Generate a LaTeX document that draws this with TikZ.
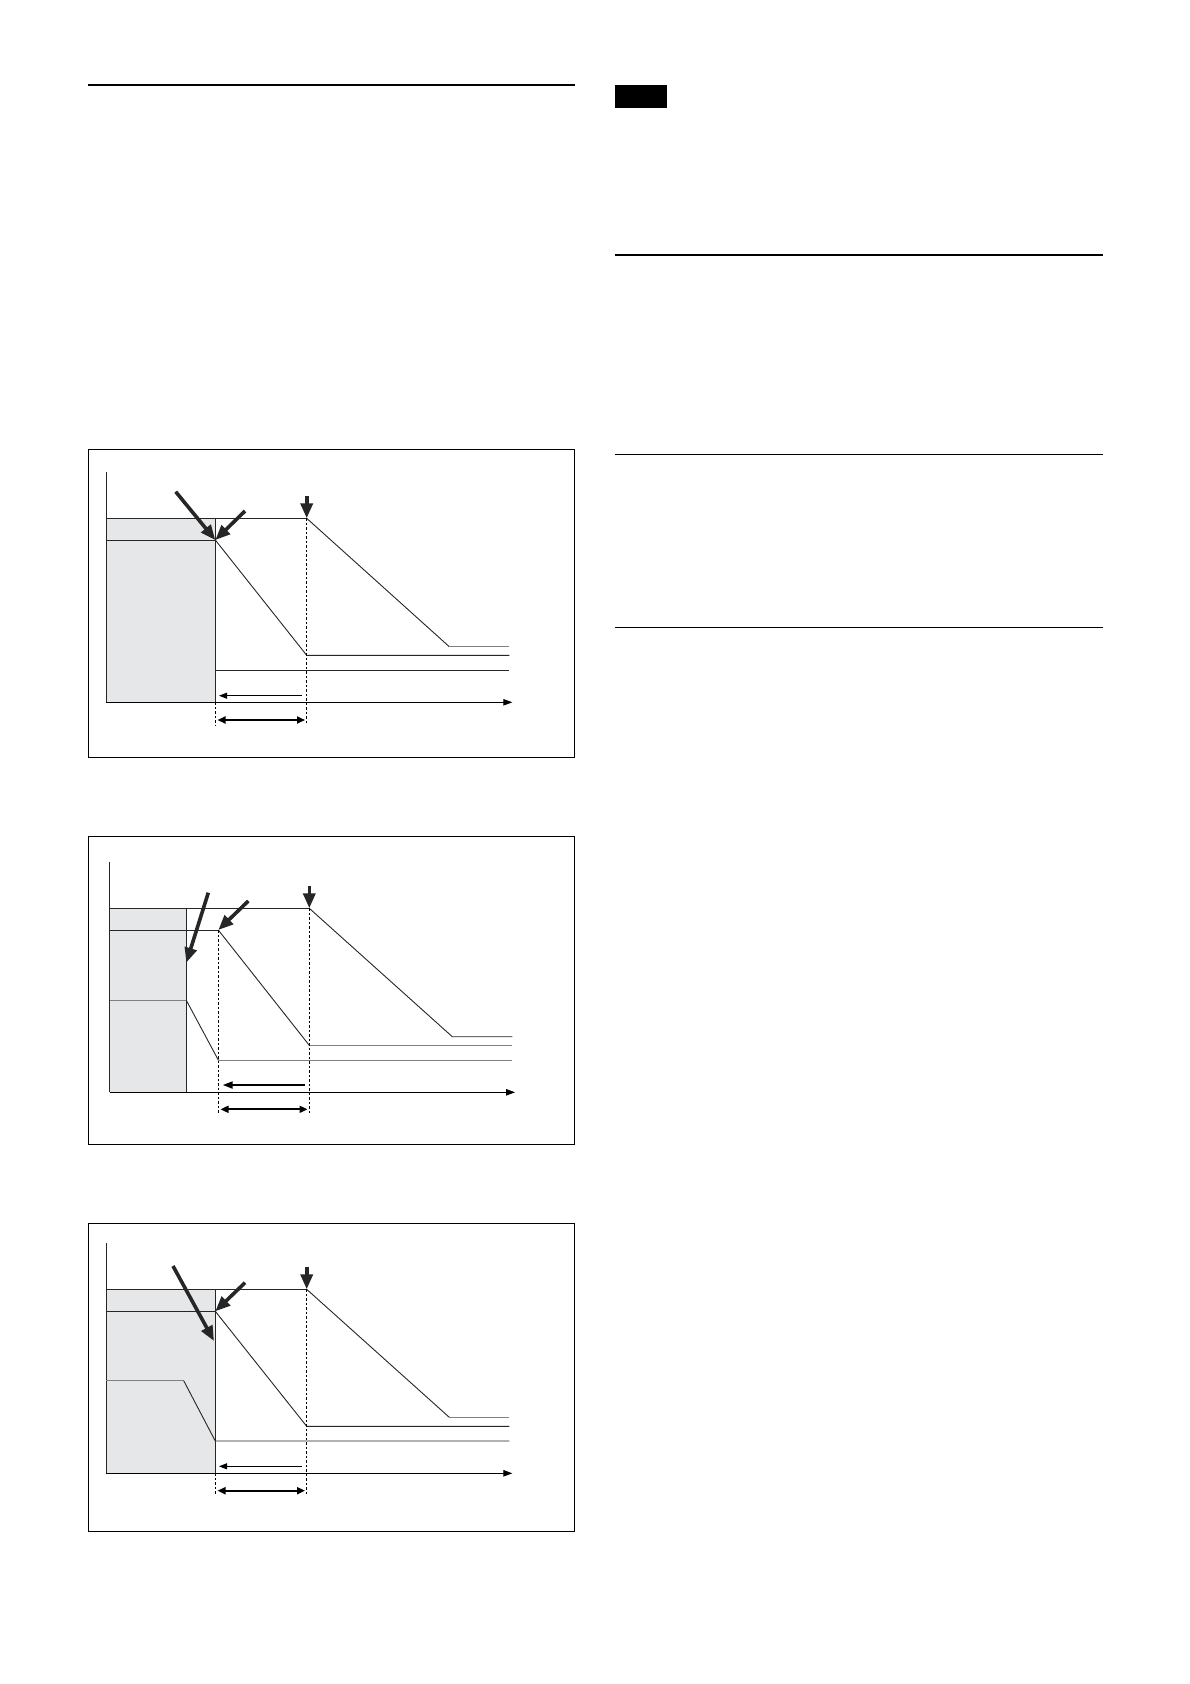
\documentclass[tikz,border=0pt]{standalone}
\usetikzlibrary{arrows.meta}
\definecolor{panelgray}{HTML}{E6E7E8}
\definecolor{greyline}{HTML}{808080}
\begin{document}
\begin{tikzpicture}[x=1pt,y=-1pt,
  thinln/.style={line width=0.9pt,black!85},
  greyln/.style={line width=1pt,greyline},
  frame/.style={line width=0.9pt,black},
  rulel/.style={line width=1.4pt,black},
  dashv/.style={line width=0.8pt,black,dash pattern=on 2.5pt off 2pt},
  axisarrow/.style={line width=0.9pt,-{Triangle[length=9pt,width=6.5pt]}},
  thickarrow/.style={line width=3.6pt,black!85,-{Triangle[length=15pt,width=12pt]}},
  smallarrow/.style={line width=0.9pt,{Triangle[length=8pt,width=6pt]}-},
  midarrow/.style={line width=2pt,{Triangle[length=10pt,width=7pt]}-},
  dblarrow/.style={line width=1.8pt,{Triangle[length=8pt,width=7pt]}-{Triangle[length=8pt,width=7pt]}}]
\useasboundingbox (0,0) rectangle (1190,1684);
\fill[white] (0,0) rectangle (1190,1684);
% page rules
\draw[rulel] (88,85) -- (575,85);
\fill[black] (615,85) rectangle (667,107.7);
\draw[rulel] (615,255) -- (1103,255);
\draw[rulel] (615,454.3) -- (1103,454.3);
\draw[rulel] (615,627.3) -- (1103,627.3);

% ---------- Diagram 1 ----------
\draw[frame] (88.3,449.3) rectangle (574.3,757);
\fill[panelgray] (106.3,518.3) rectangle (215.3,702.3);
\coordinate (a1o) at (106.3,702.3);
\draw[thinln] (106.3,472.3) -- (a1o);
\draw[axisarrow] (a1o) -- (512.3,702.3);
\draw[thinln] (106.3,518.3) -- (306.7,518.3);
\draw[thinln] (106.3,540) -- (215.3,540);
\draw[thinln] (215.3,518.3) -- (215.3,702.3);
\coordinate (k1) at (215.3,540);
\coordinate (m1) at (306.7,518.3);
\draw[thinln] (k1) -- (306.7,655.3) -- (509.3,655.3);
\draw[thinln] (m1) -- (449.3,646.7);
\draw[greyln] (449.3,646.7) -- (509.3,646.7);
\draw[thinln] (215.3,670) -- (509.3,670);
\draw[dashv] (215.3,702.3) -- (215.3,725);
\draw[dashv] (306.7,518.3) -- (306.7,725);
\draw[smallarrow] (219,695.7) -- (301.7,695.7);
\draw[dblarrow] (217.5,720) -- (305,720);
\draw[thickarrow] (175.7,491.7) -- (k1);
\draw[thickarrow] (245,511) -- (k1);
\draw[thickarrow] (306.7,496) -- (m1);

% ---------- Diagram 2 ----------
\draw[frame] (88.3,836.7) rectangle (574.3,1144);
\fill[panelgray] (109.7,908.3) rectangle (186.3,1092.3);
\coordinate (a2o) at (109.7,1092.3);
\draw[thinln] (109.7,862.3) -- (a2o);
\draw[axisarrow] (a2o) -- (515,1092.3);
\draw[thinln] (109.7,908.3) -- (309.3,908.3);
\draw[thinln] (109.7,930) -- (218.3,930);
\draw[thinln] (186.3,908.3) -- (186.3,1092.3);
\coordinate (k2) at (218.3,930);
\coordinate (m2) at (309.3,908.3);
\coordinate (v2) at (186.3,962.7);
\draw[greyln] (109.7,1000.3) -- (186.3,1000.3);
\draw[thinln] (186.3,1000.3) -- (218.3,1060);
\draw[greyln] (218.3,1060) -- (512.3,1060);
\draw[thinln] (k2) -- (309.3,1045.3);
\draw[greyln] (309.3,1045.3) -- (512.3,1045.3);
\draw[thinln] (m2) -- (452.3,1036.7) -- (512.3,1036.7);
\draw[dashv] (218.3,930) -- (218.3,1114);
\draw[dashv] (309.3,908.3) -- (309.3,1114);
\draw[midarrow] (222.7,1085) -- (305,1085);
\draw[dblarrow] (220.5,1109.3) -- (307.5,1109.3);
\draw[thickarrow] (208.3,892.7) -- (v2);
\draw[thickarrow] (248.3,901) -- (k2);
\draw[thickarrow] (309.3,886) -- (m2);

% ---------- Diagram 3 ----------
\draw[frame] (88.3,1223.3) rectangle (574.3,1531);
\fill[panelgray] (106.3,1289.3) rectangle (215.3,1473.3);
\coordinate (a3o) at (106.3,1473.3);
\draw[thinln] (106.3,1243.3) -- (a3o);
\draw[axisarrow] (a3o) -- (512.3,1473.3);
\draw[thinln] (106.3,1289.3) -- (306.7,1289.3);
\draw[thinln] (106.3,1311.3) -- (215.3,1311.3);
\draw[thinln] (215.3,1289.3) -- (215.3,1473.3);
\coordinate (k3) at (215.3,1311.3);
\coordinate (m3) at (306.7,1289.3);
\coordinate (v3) at (214,1341);
\draw[greyln] (106.3,1380.7) -- (183.7,1380.7);
\draw[thinln] (183.7,1380.7) -- (215.3,1441) -- (509.3,1441);
\draw[thinln] (k3) -- (306.7,1426.3) -- (509.3,1426.3);
\draw[thinln] (m3) -- (449.3,1417.3);
\draw[greyln] (449.3,1417.3) -- (509.3,1417.3);
\draw[dashv] (215.3,1473.3) -- (215.3,1495);
\draw[dashv] (306.7,1289.3) -- (306.7,1495);
\draw[smallarrow] (219,1466.3) -- (301.7,1466.3);
\draw[dblarrow] (217.5,1490.7) -- (305,1490.7);
\draw[thickarrow] (173,1266) -- (v3);
\draw[thickarrow] (245,1282.7) -- (k3);
\draw[thickarrow] (306.7,1267.3) -- (m3);
\end{tikzpicture}
\end{document}
